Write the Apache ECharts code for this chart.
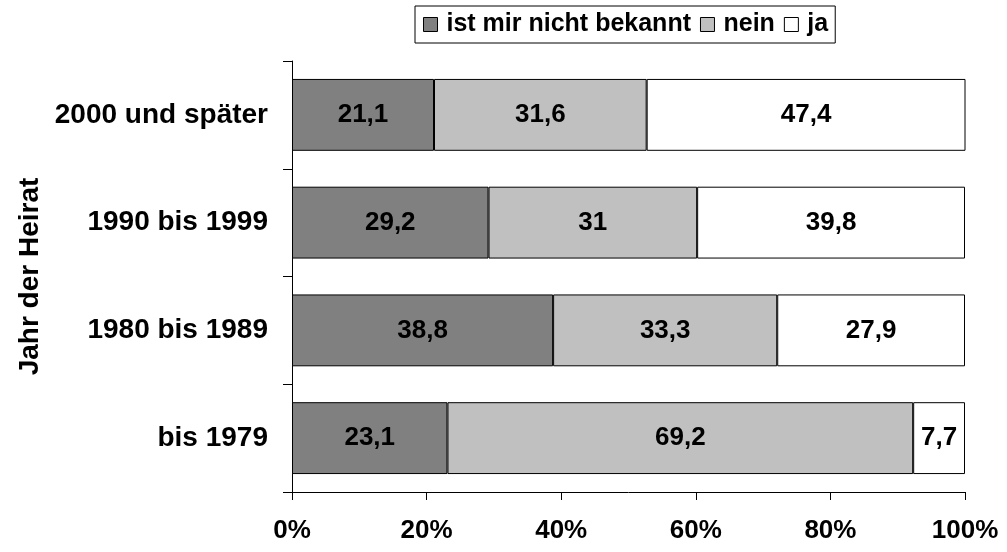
<!DOCTYPE html>
<html>
<head>
<meta charset="utf-8">
<script src="https://cdn.jsdelivr.net/npm/echarts@6/dist/echarts.min.js"></script>
<style>
  html, body { margin: 0; padding: 0; background: #fff; }
  #chart { width: 1007px; height: 552px; }
</style>
</head>
<body>
<div id="chart"></div>
<script>
// Marriage-year groups, bottom to top
const categories = ['bis 1979', '1980 bis 1989', '1990 bis 1999', '2000 und später'];
const seriesNames = ['ist mir nicht bekannt', 'nein', 'ja'];
const unbekannt = [23.1, 38.8, 29.2, 21.1];
const nein = [69.2, 33.3, 31, 31.6];
const ja = [7.7, 27.9, 39.8, 47.4];
const xTicks = [0, 20, 40, 60, 80, 100];

const FONT = '"Liberation Sans", Arial, sans-serif';
const colors = ['#808080', '#c0c0c0', '#ffffff'];
const values = [unbekannt, nein, ja];

const chart = echarts.init(document.getElementById('chart'), null, { renderer: 'canvas' });

const series = seriesNames.map((name, i) => ({
  name: name,
  type: 'bar',
  stack: 'total',
  barWidth: '66.7%',
  data: values[i],
  itemStyle: { color: colors[i], borderColor: '#000', borderWidth: 1 },
  label: {
    show: true,
    position: 'inside',
    color: '#000',
    fontFamily: FONT,
    fontWeight: 'bold',
    fontSize: 26,
    formatter: p => String(p.value).replace('.', ',')
  }
}));

chart.setOption({
  animation: false,
  backgroundColor: '#fff',
  legend: {
    data: seriesNames,
    left: 415,
    top: 6,
    icon: 'rect',
    itemWidth: 14,
    itemHeight: 14,
    itemGap: 9,
    padding: [6, 7, 6, 8],
    borderColor: '#000',
    borderWidth: 1,
    itemStyle: { borderColor: '#000', borderWidth: 1 },
    textStyle: { fontFamily: FONT, fontWeight: 'bold', fontSize: 25, color: '#000', padding: [0, 0, 0, 4] }
  },
  grid: { left: 292, right: 42, top: 61, bottom: 60, containLabel: false },
  xAxis: {
    type: 'value',
    min: xTicks[0],
    max: xTicks[xTicks.length - 1],
    interval: 20,
    axisLine: { show: true, lineStyle: { color: '#000', width: 1 } },
    axisTick: { show: true, length: 8, lineStyle: { color: '#000' } },
    splitLine: { show: false },
    axisLabel: {
      margin: 26,
      color: '#000',
      fontFamily: FONT,
      fontWeight: 'bold',
      fontSize: 26,
      formatter: v => v + '%'
    }
  },
  yAxis: {
    type: 'category',
    data: categories,
    name: 'Jahr der Heirat',
    nameLocation: 'middle',
    nameRotate: 90,
    nameGap: 246,
    nameTextStyle: { fontFamily: FONT, fontWeight: 'bold', fontSize: 28, color: '#000' },
    axisLine: { show: true, lineStyle: { color: '#000', width: 1 } },
    axisTick: { show: true, length: 9, lineStyle: { color: '#000' } },
    axisLabel: {
      margin: 24,
      color: '#000',
      fontFamily: FONT,
      fontWeight: 'bold',
      fontSize: 28
    }
  },
  series: series
});
</script>
</body>
</html>
